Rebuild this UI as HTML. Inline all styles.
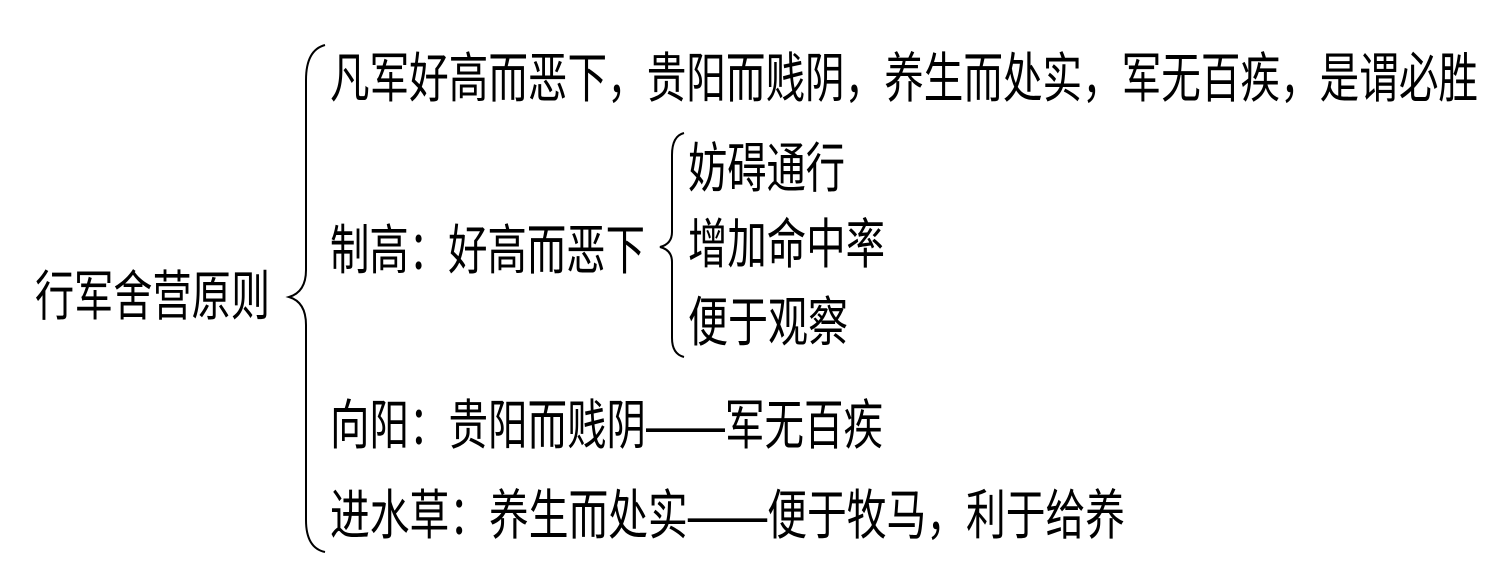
<!DOCTYPE html>
<html><head><meta charset="utf-8"><style>
html,body{margin:0;padding:0;background:#fff;}
svg{display:block;}
text{font-family:"Liberation Sans","Noto Sans CJK SC",sans-serif;font-size:54px;fill:#000;}
</style></head><body>
<svg width="1503" height="587" viewBox="0 0 1503 587" xmlns="http://www.w3.org/2000/svg">
<g fill="none" stroke="#000" stroke-width="2">
<path d="M325 45 Q306 50 306 80 L306 270 Q306 292 289 297 Q306 302 306 325 L306 520 Q306 548 325 552"/>
<path d="M684 133 Q672 136 672 155 L672 232 Q672 244 660 247 Q672 250 672 262 L672 338 Q672 354 684 357"/>
</g>
<text x="35" y="315" textLength="235" lengthAdjust="spacingAndGlyphs">行军舍营原则</text>
<text x="330" y="97" textLength="1148" lengthAdjust="spacingAndGlyphs">凡军好高而恶下，贵阳而贱阴，养生而处实，军无百疾，是谓必胜</text>
<text x="330" y="269" textLength="315" lengthAdjust="spacingAndGlyphs">制高：好高而恶下</text>
<text x="688" y="187" textLength="157" lengthAdjust="spacingAndGlyphs">妨碍通行</text>
<text x="688" y="263" textLength="197" lengthAdjust="spacingAndGlyphs">增加命中率</text>
<text x="688" y="341" textLength="160" lengthAdjust="spacingAndGlyphs">便于观察</text>
<text x="330" y="444" textLength="553" lengthAdjust="spacingAndGlyphs">向阳：贵阳而贱阴——军无百疾</text>
<text x="330" y="534" textLength="795" lengthAdjust="spacingAndGlyphs">进水草：养生而处实——便于牧马，利于给养</text>
</svg>
</body></html>
